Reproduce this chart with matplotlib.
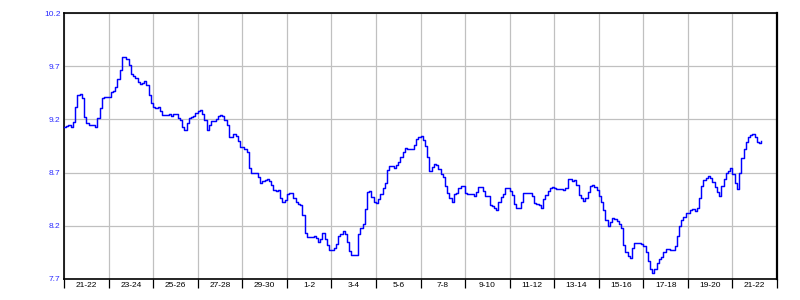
import matplotlib
matplotlib.use("Agg")
import matplotlib.pyplot as plt
import numpy as np

# Step series, 10 readings per day, starting at the left edge of the chart
values = [
    9.13, 9.14, 9.145, 9.127, 9.18, 9.314, 9.43, 9.437, 9.40, 9.22,
    9.162, 9.152, 9.152, 9.146, 9.127, 9.216, 9.304, 9.40, 9.406, 9.409,
    9.415, 9.456, 9.469, 9.50, 9.583, 9.665, 9.789, 9.789, 9.763, 9.71,
    9.627, 9.605, 9.589, 9.551, 9.535, 9.545, 9.558, 9.52, 9.43, 9.352,
    9.32, 9.311, 9.314, 9.279, 9.241, 9.241, 9.241, 9.247, 9.232, 9.247,
    9.247, 9.209, 9.19, 9.13, 9.10, 9.17, 9.212, 9.221, 9.231, 9.261,
    9.28, 9.29, 9.25, 9.19, 9.10, 9.15, 9.188, 9.188, 9.206, 9.228,
    9.246, 9.23, 9.197, 9.15, 9.037, 9.037, 9.062, 9.047, 9.0, 8.945,
    8.936, 8.924, 8.893, 8.746, 8.70, 8.70, 8.694, 8.66, 8.60, 8.617,
    8.633, 8.639, 8.623, 8.587, 8.538, 8.531, 8.538, 8.46, 8.424, 8.44,
    8.50, 8.507, 8.507, 8.464, 8.424, 8.405, 8.393, 8.30, 8.13, 8.092,
    8.092, 8.092, 8.108, 8.089, 8.051, 8.077, 8.13, 8.073, 8.02, 7.972,
    7.972, 7.988, 8.03, 8.105, 8.121, 8.152, 8.121, 8.045, 7.963, 7.925,
    7.925, 7.93, 8.121, 8.178, 8.216, 8.36, 8.516, 8.526, 8.469, 8.421,
    8.415, 8.456, 8.50, 8.551, 8.60, 8.725, 8.763, 8.763, 8.747, 8.773,
    8.804, 8.842, 8.89, 8.928, 8.922, 8.922, 8.922, 8.963, 9.015, 9.03,
    9.04, 9.006, 8.952, 8.85, 8.716, 8.754, 8.782, 8.77, 8.73, 8.69,
    8.662, 8.574, 8.511, 8.46, 8.426, 8.495, 8.511, 8.552, 8.574, 8.574,
    8.511, 8.50, 8.50, 8.495, 8.48, 8.52, 8.568, 8.565, 8.527, 8.48,
    8.48, 8.40, 8.385, 8.363, 8.35, 8.426, 8.47, 8.50, 8.552, 8.558,
    8.527, 8.486, 8.407, 8.363, 8.369, 8.426, 8.505, 8.511, 8.511, 8.505,
    8.48, 8.413, 8.406, 8.393, 8.37, 8.456, 8.488, 8.526, 8.551, 8.567,
    8.551, 8.542, 8.542, 8.542, 8.532, 8.551, 8.637, 8.637, 8.62, 8.63,
    8.58, 8.488, 8.463, 8.437, 8.463, 8.52, 8.573, 8.583, 8.564, 8.532,
    8.478, 8.425, 8.352, 8.25, 8.20, 8.235, 8.273, 8.266, 8.241, 8.216,
    8.184, 8.02, 7.95, 7.92, 7.893, 7.988, 8.035, 8.035, 8.035, 8.026,
    8.013, 7.95, 7.868, 7.798, 7.76, 7.79, 7.85, 7.89, 7.91, 7.955,
    7.98, 7.98, 7.975, 7.975, 8.01, 8.10, 8.20, 8.25, 8.28, 8.32,
    8.32, 8.35, 8.36, 8.34, 8.37, 8.465, 8.57, 8.63, 8.653, 8.67,
    8.653, 8.615, 8.565, 8.52, 8.48, 8.57, 8.64, 8.695, 8.715, 8.74,
    8.685, 8.60, 8.55, 8.695, 8.84, 8.92, 8.99, 9.03, 9.05, 9.063,
    9.03, 8.99, 8.98, 9.0,
]
readings_per_day = 10
days = np.arange(len(values)) / readings_per_day

x_labels = ["21-22", "23-24", "25-26", "27-28", "29-30", "1-2", "3-4", "5-6",
            "7-8", "9-10", "11-12", "13-14", "15-16", "17-18", "19-20", "21-22"]
y_ticks = [7.7, 8.2, 8.7, 9.2, 9.7, 10.2]

plt.rcParams['font.family'] = ['Liberation Sans', 'DejaVu Sans']

fig = plt.figure(figsize=(8, 3), dpi=100)
ax = fig.add_axes([64/800, 1 - 279/300, (777-64)/800, (279-13)/300])

ax.plot(days, values, drawstyle='steps-post', color='#0000ff', lw=1.05, zorder=3)

n = len(x_labels)
ax.set_xlim(0, 2*n)
ax.set_ylim(y_ticks[0], y_ticks[-1])

ax.set_xticks(np.arange(0, 2*n + 1, 2))
ax.set_xticklabels([])
ax.set_xticks(np.arange(1, 2*n, 2), minor=True)
ax.set_xticklabels(x_labels, minor=True)
ax.tick_params(axis='x', which='major', direction='out', length=6.5, width=0.9, color='black')
ax.tick_params(axis='x', which='minor', length=0, pad=2.5, labelsize=6, labelcolor='black')

ax.set_yticks(y_ticks)
ax.set_yticklabels([f"{v:.1f}" for v in y_ticks])
ax.tick_params(axis='y', length=0, pad=2.5, labelsize=6, labelcolor='#2a2aff')

ax.grid(True, which='major', color='#c0c0c0', lw=0.9, zorder=0)
ax.set_axisbelow(True)

for s in ['left', 'bottom', 'top']:
    ax.spines[s].set_linewidth(1.2)
    ax.spines[s].set_color('black')
ax.spines['right'].set_linewidth(1.6)
ax.spines['right'].set_color('black')

fig.savefig('out.png', dpi=100, facecolor='white')
